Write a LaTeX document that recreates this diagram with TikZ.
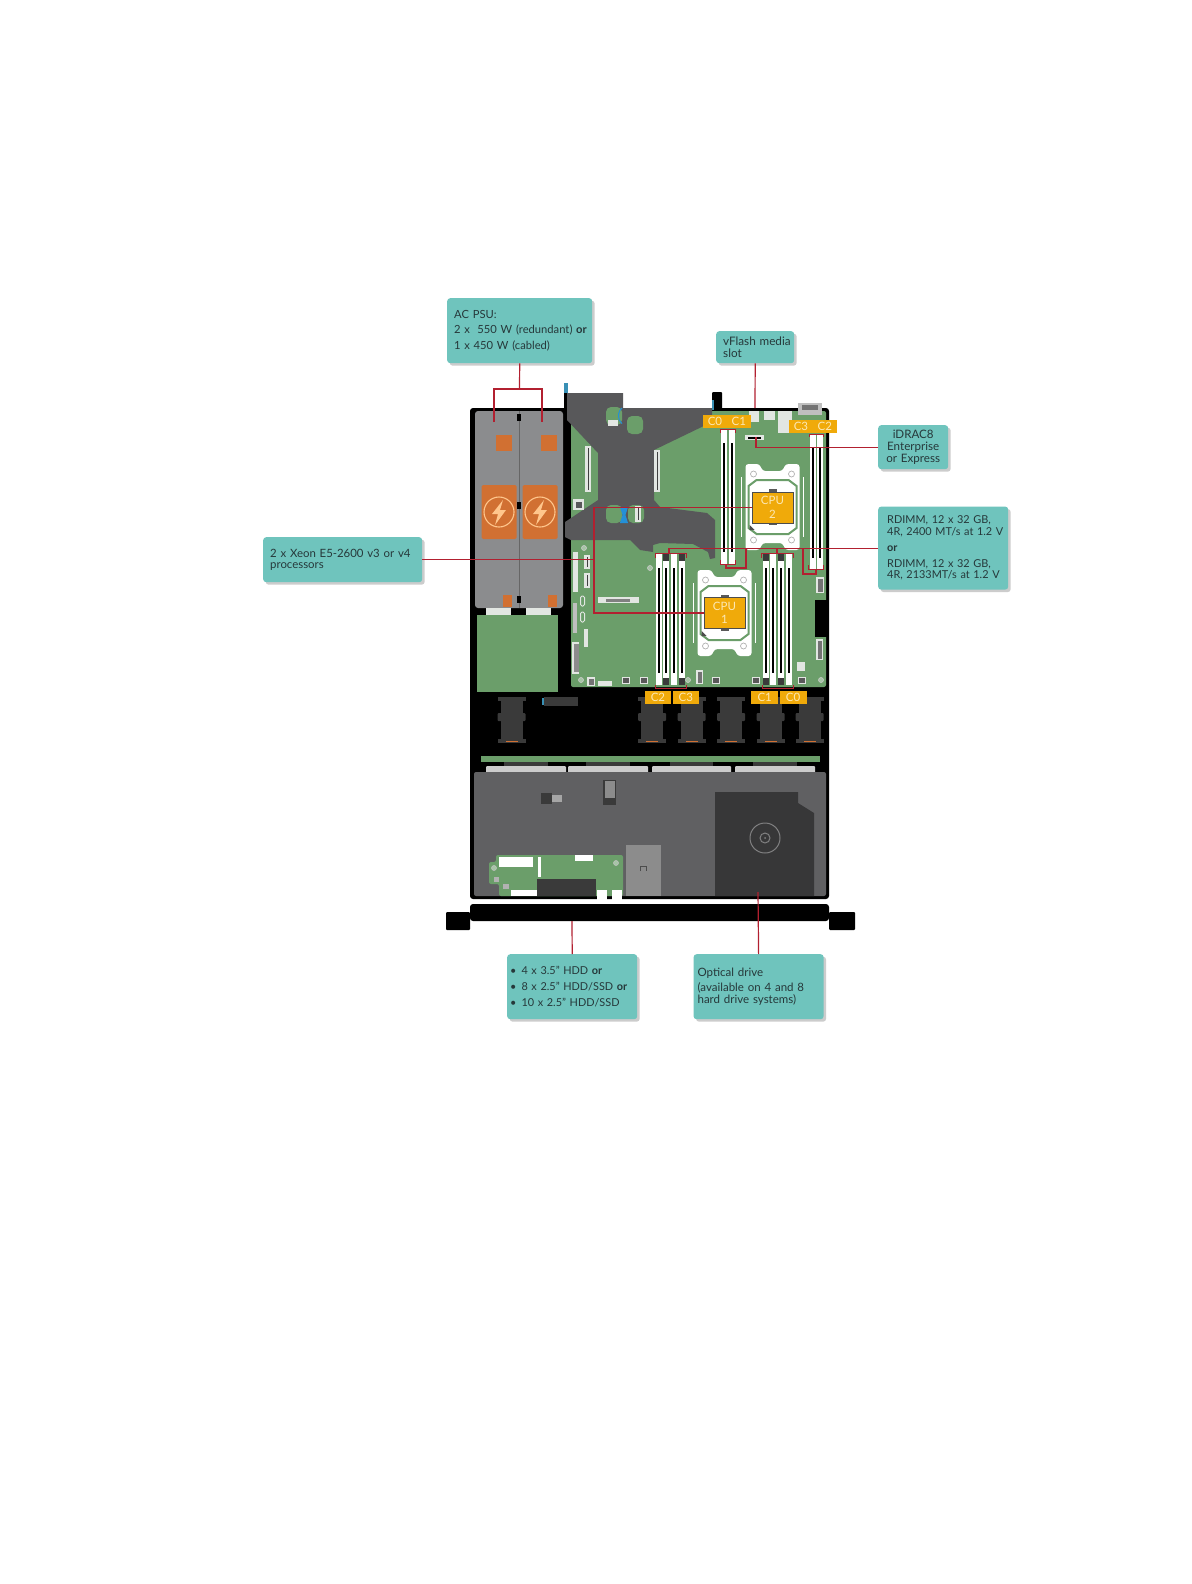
\documentclass[tikz,border=0pt]{standalone}
\usepackage{fontspec}
\setmainfont{Lato}
\usepackage{xcolor}
\usetikzlibrary{positioning, shadows}
\definecolor{calloutteal}{RGB}{111, 196, 189}
\definecolor{calloutink}{RGB}{38, 56, 58}
\definecolor{leaderred}{RGB}{178, 32, 48}
\definecolor{boardgreen}{RGB}{107, 158, 106}
\definecolor{riserdark}{RGB}{88, 88, 90}
\definecolor{psugray}{RGB}{139, 140, 142}
\definecolor{psuorange}{RGB}{209, 112, 50}
\definecolor{shroudgray}{RGB}{96, 96, 98}
\definecolor{drivedark}{RGB}{55, 55, 56}
\definecolor{fangray}{RGB}{58, 58, 58}
\definecolor{tagorange}{RGB}{240, 170, 10}
\definecolor{tagtext}{RGB}{252, 232, 180}
\definecolor{portlight}{RGB}{226, 230, 226}
\newcommand{\callfont}[1]{\fontsize{#1}{11.7}\selectfont}
\begin{document}
\begin{tikzpicture}[
  x=1pt, y=-1pt,
  callout/.style={rectangle, rounded corners=3pt, fill=calloutteal, text=calloutink, inner xsep=7pt, inner ysep=0pt, align=left, anchor=north west, drop shadow={opacity=.4, shadow xshift=2.5pt, shadow yshift=-2.5pt}},
  leader/.style={draw=leaderred, line width=1.2pt},
  dimmtag/.style={rectangle, fill=tagorange, text=tagtext, minimum width=23.5pt, minimum height=13pt, inner sep=0pt, font=\fontsize{11.5}{12}\selectfont},
  cpuchip/.style={rectangle, fill=tagorange, draw=black!70, line width=.8pt, text=tagtext, minimum width=41pt, minimum height=31pt, inner sep=0pt, align=center, font=\fontsize{11.5}{13.5}\selectfont},
]
  \useasboundingbox (0,0) rectangle (1191,1584);
  \fill[white] (0,0) rectangle (1191,1584);

  % chassis and bezel
  \fill[black, rounded corners=3pt] (470,408) rectangle (829,899);
  \fill[black, rounded corners=3pt] (470,904) rectangle (829,921);
  \fill[black, rounded corners=1pt] (446,912) rectangle (470,930);
  \fill[black, rounded corners=1pt] (829,912) rectangle (855,930);

  % power supplies
  \fill[psugray, rounded corners=3pt] (475,411) rectangle (563,608);
  \draw[black!60, line width=.7pt] (519,411) -- (519,608);
  \foreach \hy in {414, 502, 596} \fill[black] (517,\hy) rectangle (521,\hy+7);
  \foreach \px/\qx in {496/503, 541/548} {
    \fill[psuorange] (\px,435) rectangle (\px+16,451);
    \fill[psuorange] (\qx,595) rectangle (\qx+9,607);
  }
  \foreach \px in {499, 540} {
    \fill[psuorange, rounded corners=1.5pt] (\px-17.5,485) rectangle (\px+17.5,539);
    \draw[orange!45!white, line width=1.1pt] (\px,512) circle (15);
    \fill[orange!45!white] (\px+4,500) -- (\px-7,514) -- (\px-1,514) -- (\px-4,525) -- (\px+7,510) -- (\px+1,510) -- cycle;
  }
  \foreach \px in {486, 526} \fill[portlight] (\px,608) rectangle (\px+25,618);
  \fill[boardgreen] (477,615) rectangle (558,692);

  % system board
  \fill[boardgreen, rounded corners=2pt] (571,411) rectangle (826,687);
  \fill[black] (815,600) rectangle (829,637);

  % rear panel
  \fill[black] (564,393) rectangle (567,408);
  \fill[black, rounded corners=1pt] (712,392) rectangle (722,410);
  \fill[portlight] (749,411) rectangle (759,422);
  \fill[portlight] (764,411) rectangle (775,420);
  \fill[portlight] (778,411) rectangle (792,433);
  \fill[black!25] (798,403) rectangle (822,415);
  \fill[black!55] (802,405) rectangle (818,410);
  \fill[cyan!70!black] (564,383) rectangle (567.5,393);
  \fill[cyan!70!black] (712,400) rectangle (714,410);

  % riser
  \fill[riserdark] (567,393) -- (623,393) -- (623,408) -- (712,408) -- (712,422) -- (654,450) -- (654,500) -- (660,507) -- (707,513) -- (715,520) -- (715,558) -- (710,559) -- (708,552) -- (693,544) -- (660,543) -- (653,545) -- (653,552) -- (640,550) -- (630,540) -- (571,540) -- (565,537) -- (565,522) -- (598,500) -- (598,453) -- (567,420) -- cycle;
  \foreach \bx/\by in {606/407, 627/416, 606/505, 628/505}
    \fill[boardgreen, rounded corners=5pt] (\bx,\by) rectangle (\bx+16,\by+18);
  \fill[cyan!70!blue!90] (620,507) -- (628,507) -- (625.5,515) -- (628,523) -- (620,523) -- (622.5,515) -- cycle;
  \draw[cyan!70!blue!90, line width=1pt] (622,408) arc (-60:60:-7 and 9);
  \fill[portlight] (608,420) rectangle (618,426);
  \foreach \sx/\sy/\sh in {585/446/46, 654/450/42, 635/506/16, 584/555/14, 584/573/15} {
    \fill[portlight] (\sx,\sy) rectangle (\sx+6,\sy+\sh);
    \fill[black!75] (\sx+2.5,\sy+2) rectangle (\sx+3.5,\sy+\sh-2);
  }

  % small parts on the board
  \foreach \gx/\gy/\gw/\gh in {573/552/5/40, 598/597/41/6, 572/642/7/32, 584/629/4/18, 797/662/8/9, 598/681/14/5, 573/499/11/11}
    \fill[portlight] (\gx,\gy) rectangle (\gx+\gw,\gy+\gh);
  \fill[black!50] (606,599) rectangle (630,601.5);
  \fill[black!45] (573.5,644) rectangle (578.5,672);
  \fill[black!25] (573,603) rectangle (577,633);
  \fill[riserdark] (576,502) rectangle (582,508);
  \foreach \cy in {596, 612} \draw[portlight, line width=1pt, rounded corners=1.5pt] (580.5,\cy) rectangle (584.5,\cy+10);
  \foreach \gx in {622, 640, 712, 752, 798} {
    \fill[portlight] (\gx,677) rectangle (\gx+8,684);
    \fill[black!65] (\gx+1,678) rectangle (\gx+7,683);
  }
  \foreach \gx/\gy/\gw/\gh in {587/677/8/9, 696/670/7/14, 816/577/8/16, 816/639/7/21} {
    \fill[portlight] (\gx,\gy) rectangle (\gx+\gw,\gy+\gh);
    \fill[black!55] (\gx+1.5,\gy+1.5) rectangle (\gx+\gw-1.5,\gy+\gh-1.5);
  }
  \foreach \sx/\sy in {584/548, 650/568, 581/680, 688/680, 821/680}
    \draw[black!20, fill=boardgreen!60!white, line width=.6pt] (\sx,\sy) circle (2.5);
  \fill[portlight] (745,435) rectangle (764,440);
  \fill[black] (748,436.5) rectangle (761,438.5);

  % memory slots
  \foreach \sx/\ta/\tb/\ya/\yb in {724/white/white/429/564, 731.5/white/white/429/564, 812.5/white/white/434/570, 820/white/white/434/570,
      658.5/white/white/554/685, 666/fangray/fangray/554/685, 674/white/white/554/685, 681.5/fangray/fangray/554/685,
      765.5/fangray/fangray/554/685, 773/white/white/554/685, 781/fangray/fangray/554/685, 789/white/white/554/685} {
    \fill[white] (\sx-3,\ya) rectangle (\sx+3,\yb);
    \fill[black] (\sx-1,\ya+14) rectangle (\sx+1,\yb-12);
    \fill[\ta] (\sx-3,\ya) rectangle (\sx+3,\ya+7);
    \fill[\tb] (\sx-3,\yb-7) rectangle (\sx+3,\yb);
  }

  % processor sockets
  \foreach \cx/\cy in {724.5/613, 772.5/507} {
    \begin{scope}[shift={(\cx,\cy)}]
      \fill[white, rounded corners=3pt] (-27,-43) -- (-13,-43) -- (-10,-36) -- (10,-36) -- (13,-43) -- (27,-43) -- (27,43) -- (13,43) -- (10,36) -- (-10,36) -- (-13,43) -- (-27,43) -- cycle;
      \draw[boardgreen, line width=2pt] (-16,-27) -- (16,-27) -- (24,-21) -- (24,21) -- (16,27) -- (-16,27) -- (-24,21) -- (-24,-21) -- cycle;
      \draw[white, line width=1.2pt] (-31,-30) -- (-31,30) (31,-30) -- (31,30);
      \foreach \hx/\hy in {-19/-33, 19/-33, -19/33, 19/33} \draw[black!30, line width=.7pt] (\hx,\hy) circle (3);
      \fill[black!65] (-4,-18) rectangle (4,18);
      \fill[black!70] (-23,18) -- (-18,23) -- (-23,23) -- cycle;
    \end{scope}
  }
  \node[cpuchip] (cputwo) at (772.5,507.5) {CPU\\2};
  \node[cpuchip] (cpuone) at (724.5,613) {CPU\\1};

  % fans and the strip in front of them
  \foreach \fx in {511.5, 652, 691.5, 731, 770.5, 809.5} {
    \fill[fangray] (\fx-14,697) rectangle (\fx+14,701);
    \fill[fangray] (\fx-11,701) rectangle (\fx+11,713);
    \fill[fangray, rounded corners=1pt] (\fx-14,713) rectangle (\fx+14,721);
    \fill[fangray] (\fx-11,721) rectangle (\fx+11,739);
    \fill[fangray] (\fx-14,739) rectangle (\fx+14,743);
    \fill[psuorange] (\fx-6,740.5) rectangle (\fx+6,741.5);
  }
  \fill[fangray] (544,697) rectangle (578,706);
  \fill[cyan!70!black] (542,698) rectangle (543.5,705);
  \fill[boardgreen] (481,756) rectangle (820,762);
  \foreach \dx/\dw in {486/80, 568/80, 652/79, 735/80} {
    \fill[black!20, rounded corners=1pt] (\dx,766) rectangle (\dx+\dw,774);
    \fill[fangray] (\dx+18,762) rectangle (\dx+\dw-18,766);
  }

  % front of the system
  \fill[shroudgray, rounded corners=2pt] (474,772) rectangle (826,896);
  \fill[drivedark] (715,792) -- (798,792) -- (798,803) -- (814,813) -- (814,896) -- (715,896) -- cycle;
  \draw[shroudgray!80!white, line width=1pt] (765,838) circle (15);
  \draw[shroudgray!80!white, line width=1pt] (765,838) circle (5);
  \fill[shroudgray!80!white] (765,838) circle (1);
  \fill[fangray] (541,793) rectangle (552,804);
  \fill[black!35] (552,795) rectangle (562,802);
  \fill[fangray] (603,780) rectangle (616,805);
  \fill[black!45] (604.5,781) rectangle (614.5,798);
  \fill[black!45] (626,845) rectangle (661,896);
  \draw[black!70, line width=.9pt] (640,871) -- (640,866) -- (646,866) -- (646,871);
  \fill[boardgreen, rounded corners=2pt] (489,862) -- (496,862) -- (496,855) -- (623,855) -- (623,896) -- (499,896) -- (499,884) -- (489,884) -- cycle;
  \fill[fangray] (537,879) rectangle (596,896);
  \foreach \wx/\wy/\ww/\wh in {499/857/34/10, 575/855/18/6, 538/857/3/20, 511/890/26/6, 597/890/10/10, 612/890/10/10}
    \fill[white] (\wx,\wy) rectangle (\wx+\ww,\wy+\wh);
  \draw[black!25, fill=boardgreen!60!white, line width=.6pt] (494,868) circle (2.5);
  \draw[black!25, fill=boardgreen!60!white, line width=.6pt] (616,863) circle (2.5);
  \fill[black!30] (494,877) rectangle (499,882);
  \fill[black!30] (503,884) rectangle (509,889);

  % slot tags
  \node[dimmtag, anchor=north west] (tagczero) at (703,415) {C0};
  \node[dimmtag, right=0pt of tagczero] (tagcone) {C1};
  \node[dimmtag, anchor=north west] (tagcthree) at (789,419.5) {C3};
  \node[dimmtag, right=0pt of tagcthree] (tagctwo) {C2};
  \node[dimmtag, minimum width=26.5pt, anchor=north west] (tagfronttwo) at (644.5,691) {C2};
  \node[dimmtag, minimum width=26.5pt, right=1pt of tagfronttwo] (tagfrontthree) {C3};
  \node[dimmtag, minimum width=27pt, anchor=north west] (tagfrontone) at (751,691) {C1};
  \node[dimmtag, minimum width=27pt, right=1pt of tagfrontone] (tagfrontzero) {C0};

  % callouts
  \node[callout, font=\callfont{11.2}, text width=131pt, minimum height=65pt] (acpsu) at (447,298) {AC PSU:\\[4pt]\mbox{2 x\ \ 550 W (redundant) \textbf{or}}\\[4pt]1 x 450 W (cabled)};
  \node[callout, font=\callfont{11.7}, text width=64pt, minimum height=32pt] (vflash) at (716,331) {\mbox{vFlash media}\\slot};
  \node[callout, font=\callfont{11.6}, inner xsep=6pt, text width=58pt, minimum height=44pt, align=center] (idrac) at (878,425) {iDRAC8\\Enterprise\\or Express};
  \node[callout, font=\callfont{10.9}, inner xsep=9pt, text width=112pt, minimum height=83pt, below=37pt of idrac.south west, anchor=north west] (rdimm) {RDIMM, 12 x 32 GB,\\\mbox{4R, 2400 MT/s at 1.2 V}\\[4pt]\textbf{or}\\[4pt]RDIMM, 12 x 32 GB,\\\mbox{4R, 2133MT/s at 1.2 V}};
  \node[callout, font=\callfont{11.4}, text width=145pt, minimum height=45pt] (xeon) at (263,537) {2 x Xeon E5-2600 v3 or v4\\processors};
  \node[callout, font=\callfont{10.9}, inner xsep=3pt, text width=124pt, minimum height=65pt] (drives) at (507,954) {\textbullet\hspace{5pt}4 x 3.5" HDD \textbf{or}\\[4pt]\textbullet\hspace{5pt}8 x 2.5" HDD/SSD \textbf{or}\\[4pt]\textbullet\hspace{5pt}10 x 2.5" HDD/SSD};
  \node[callout, font=\callfont{11.5}, inner xsep=4pt, text width=122pt, minimum height=65pt, right=56pt of drives] (optical) {Optical drive\\[4pt](available on 4 and 8\\hard drive systems)};

  % connector ends
  \coordinate (psuleft) at (494,389);
  \coordinate (psuright) at (542,389);
  \coordinate (psuhub) at (519.5,389);
  \coordinate (vflashslot) at (755,408);
  \coordinate (idracslot) at (756,437);
  \coordinate (cpubus) at (594,507);
  \coordinate (driveend) at (572,921);
  \coordinate (opticalend) at (758,892);
  \coordinate (bankajoin) at (669,553);
  \coordinate (bankbjoin) at (777,553);
  \coordinate (bankaleft) at (655,553);
  \coordinate (bankaright) at (686,553);
  \coordinate (bankbleft) at (761,553);
  \coordinate (bankbright) at (793,553);
  \coordinate (bankcleft) at (720,564);
  \coordinate (bankcright) at (735,564);
  \coordinate (bankdleft) at (808,569);
  \coordinate (bankdright) at (823,569);
  \coordinate (bankcelbow) at (746,568);
  \coordinate (bankdelbow) at (803,574);
  \coordinate (bankcfoot) at (726,564);
  \coordinate (bankdfoot) at (816,569);
  \coordinate (rearaleft) at (720,429.5);
  \coordinate (rearaight) at (735,429.5);
  \coordinate (rearbleft) at (809,434);
  \coordinate (rearbright) at (823,434);
  \coordinate (tagaleft) at (655,688);
  \coordinate (tagaright) at (686,688);
  \coordinate (tagbleft) at (762,688);
  \coordinate (tagbright) at (793,688);

  % connectors
  \draw[leader] (acpsu.south) -- (psuhub);
  \draw[leader] (psuleft |- 0,422) -- (psuleft) -- (psuright) -- (psuright |- 0,422);
  \draw[leader] (vflash.south) -- (vflashslot);
  \draw[leader] (idrac.west) -| (idracslot);
  \draw[leader] (xeon.east) -- (xeon.east -| cpubus);
  \draw[leader] (cputwo.west) -| (cpubus) |- (cpuone.west);
  \draw[leader] (drives.north) -- (driveend);
  \draw[leader] (optical.north) -- (opticalend);
  \draw[leader] (rdimm.west) -| (bankajoin);
  \draw[leader] (bankbjoin) -- (bankbjoin |- rdimm.west);
  \draw[leader] (bankcelbow |- rdimm.west) -- (bankcelbow) -| (bankcfoot);
  \draw[leader] (bankdelbow |- rdimm.west) -- (bankdelbow) -| (bankdfoot);
  \foreach \bl/\br/\st in {bankaleft/bankaright/5, bankbleft/bankbright/5, bankcleft/bankcright/-4, bankdleft/bankdright/-4, rearaleft/rearaight/3, rearbleft/rearbright/3, tagaleft/tagaright/-3, tagbleft/tagbright/-3}
    \draw[leader, line width=.9pt] (\bl) ++(0,\st) -- (\bl) -- (\br) -- ++(0,\st);
\end{tikzpicture}
\end{document}
